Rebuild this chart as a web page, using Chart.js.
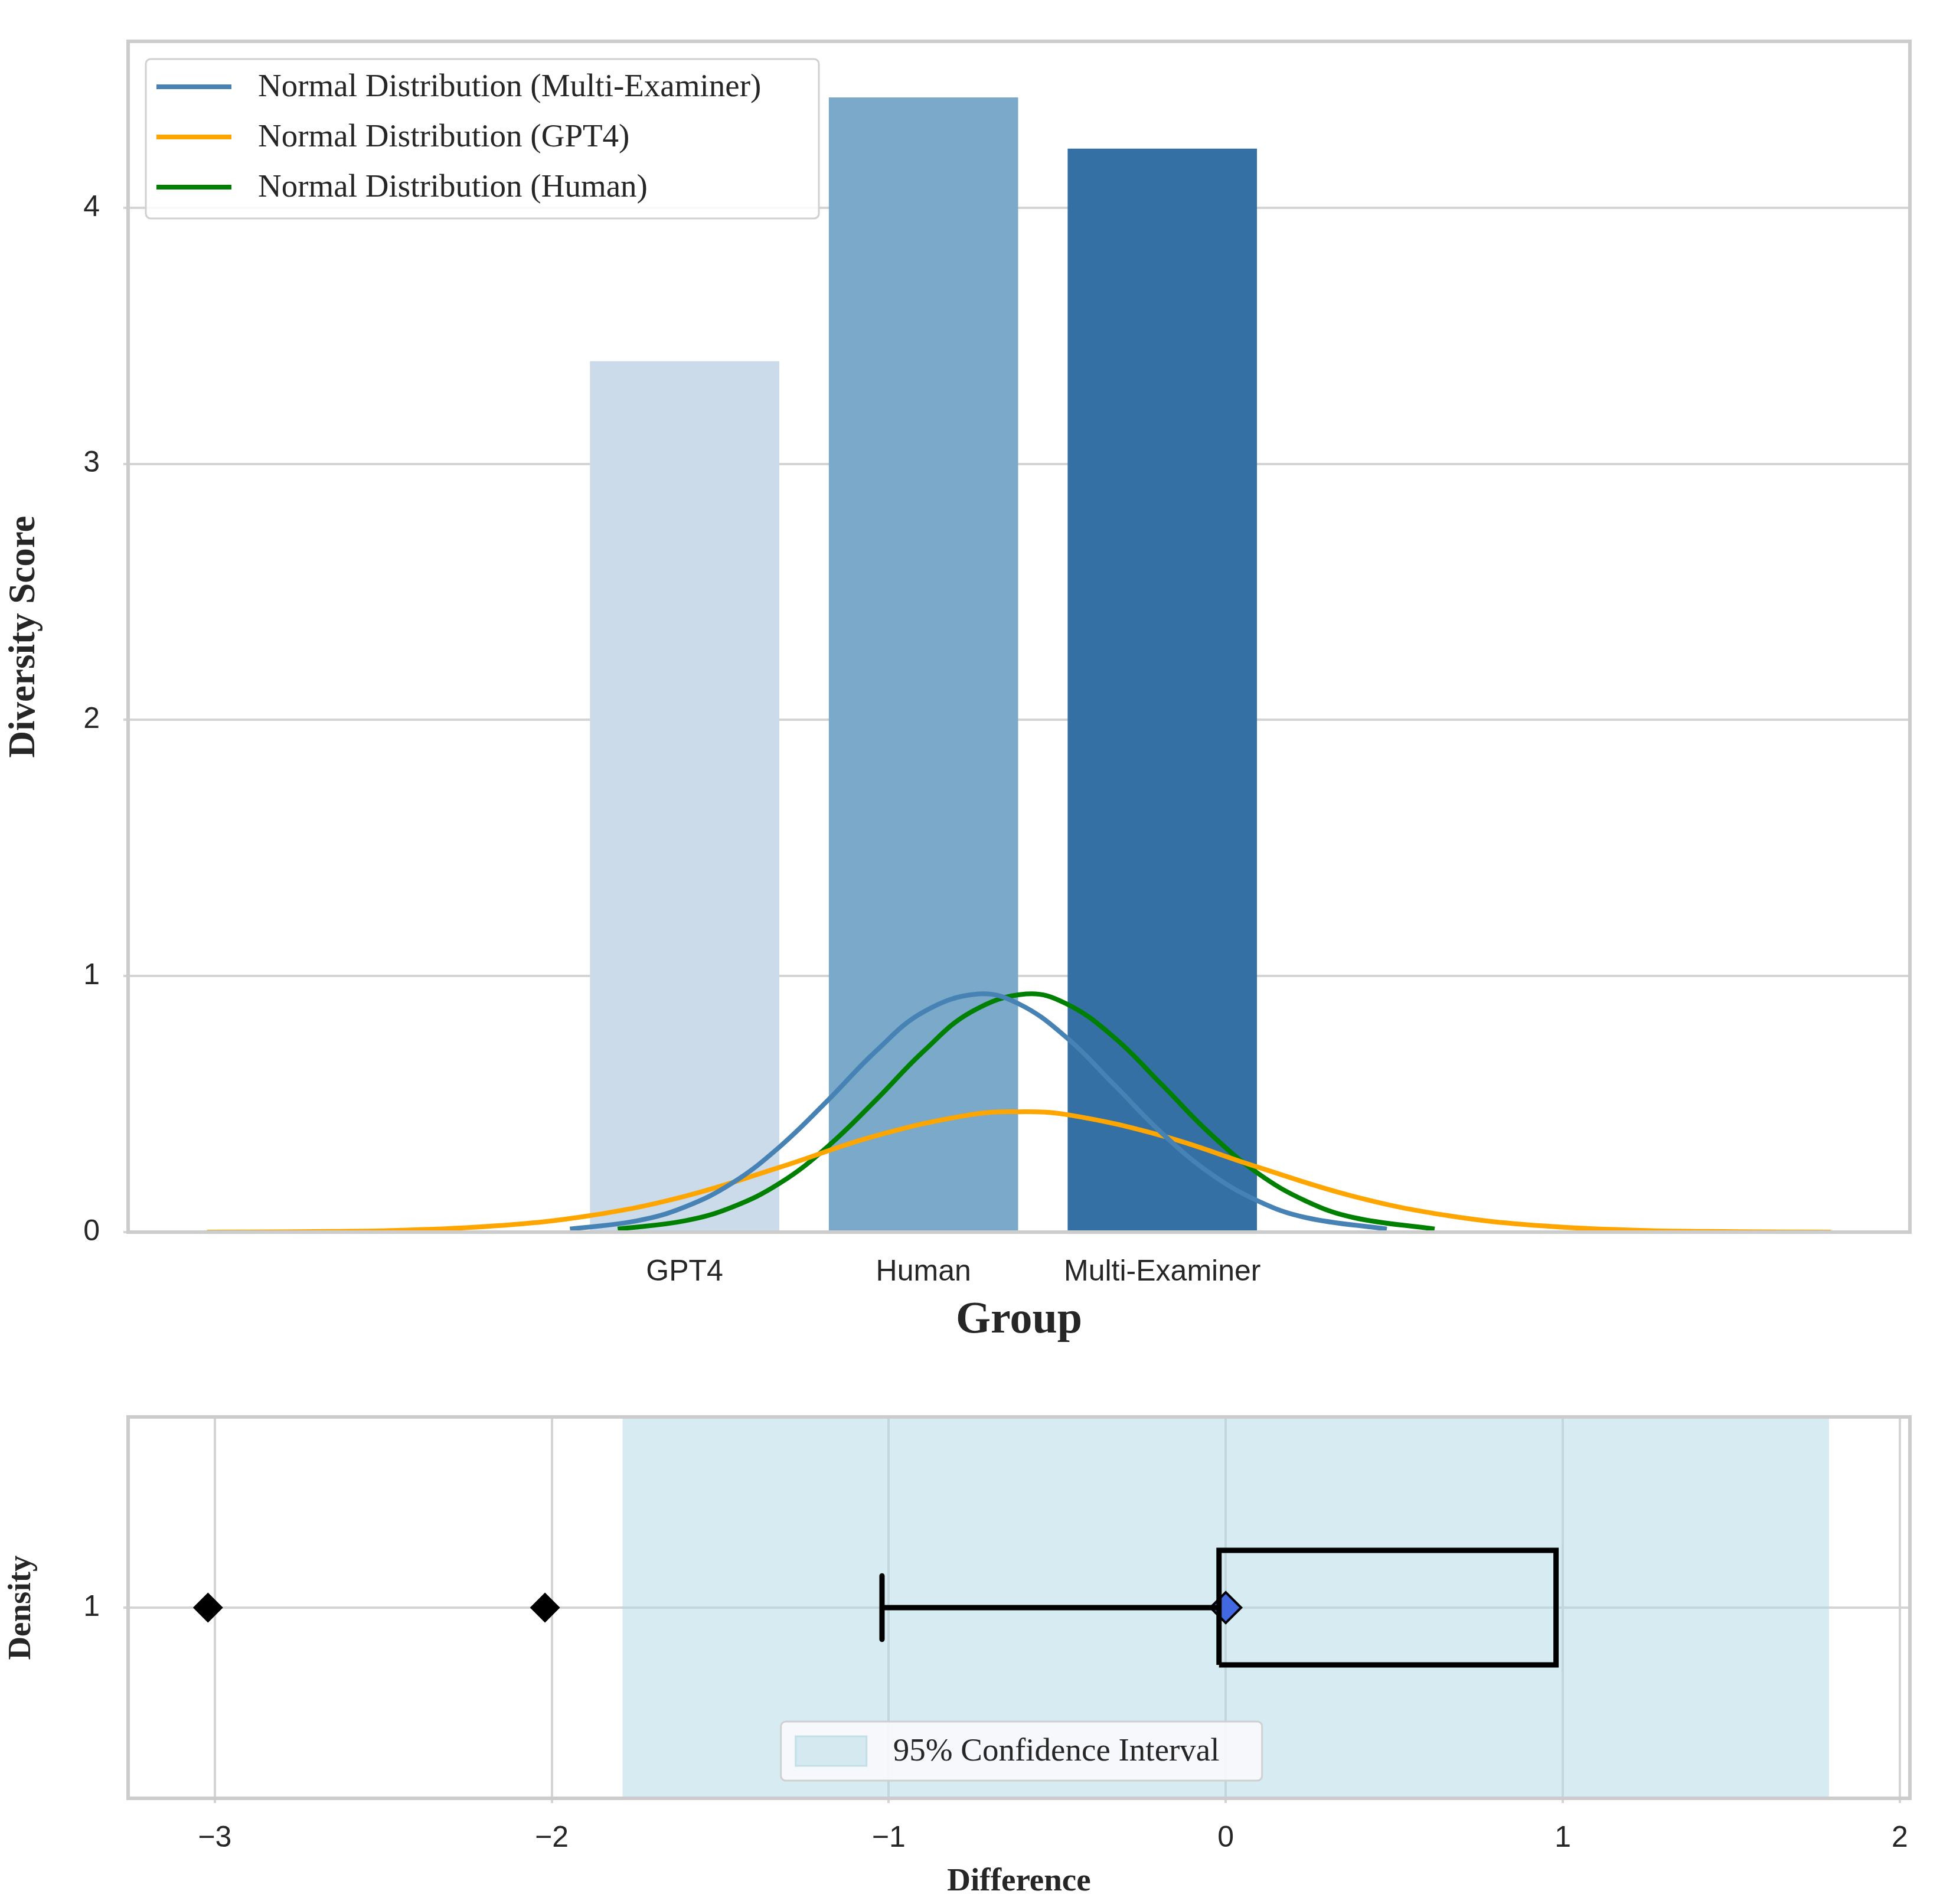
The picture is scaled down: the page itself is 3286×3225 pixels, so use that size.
<!DOCTYPE html>
<html><head><meta charset="utf-8">
<script src="https://cdn.jsdelivr.net/npm/chart.js"></script>
<style>
body{margin:0;background:#fff;width:3286px;height:3225px;overflow:hidden;position:relative}
canvas{position:absolute;left:0}
</style></head><body>
<canvas id="top" width="3286" height="2330" style="top:0;width:3286px;height:2330px"></canvas>
<canvas id="bot" width="3286" height="895" style="top:2330px;width:3286px;height:895px"></canvas>
<script>
const categories = ['GPT4','Human','Multi-Examiner'];
const barValues = [3.40, 4.43, 4.23];
const barColors = ['#cbdbea','#7aa9c9','#3470a3'];
const yTicksTop = [0,1,2,3,4];

const multiX = [-0.48,-0.2,0,0.2,0.4,0.6,0.8,1.0,1.23,1.4,1.6,1.8,2.0,2.2,2.4,2.6,2.94];
const multiY = [0.012,0.044,0.098,0.192,0.335,0.515,0.706,0.860,0.930,0.891,0.759,0.574,0.385,0.230,0.122,0.057,0.012];
const humanX = [-0.28,0,0.2,0.4,0.6,0.8,1.0,1.2,1.43,1.6,1.8,2.0,2.2,2.4,2.6,2.8,3.14];
const humanY = [0.012,0.044,0.098,0.192,0.335,0.515,0.706,0.860,0.930,0.891,0.759,0.574,0.385,0.230,0.122,0.057,0.012];
const gptX = [-2.0,-1.6,-1.2,-0.8,-0.4,0,0.4,0.8,1.2,1.4,1.6,2.0,2.4,2.8,3.2,3.6,4.0,4.4,4.8];
const gptY = [0.000,0.002,0.007,0.024,0.064,0.140,0.254,0.376,0.459,0.470,0.459,0.376,0.254,0.140,0.064,0.024,0.007,0.002,0.000];

const diffTicks = [-3,-2,-1,0,1,2];
const ciRange = [-1.79, 1.79];
const whiskerLow = -1.02, q1 = -0.02, q3 = 0.98, meanVal = 0.0;
const outliers = [-3.02, -2.02];

const serif = '"Liberation Serif", "Times New Roman", serif';
const sans = '"Liberation Sans", Arial, sans-serif';
const grid = '#d4d4d4';

const frame = {id:'frame', afterDatasetsDraw(c){const a=c.chartArea,x=c.ctx;x.save();x.strokeStyle='#cccccc';x.lineWidth=6;x.strokeRect(a.left,a.top,a.right-a.left,a.bottom-a.top);x.restore();}};

const topLegend = {id:'tl', afterDraw(c){
  const x=c.ctx,a=c.chartArea; x.save();
  const bx=a.left+30,by=a.top+30,bw=1140,bh=270;
  x.fillStyle='rgba(255,255,255,0.85)';x.strokeStyle='#d0d0d0';x.lineWidth=3;
  x.beginPath();x.roundRect(bx,by,bw,bh,8);x.fill();x.stroke();
  const items=[['Normal Distribution (Multi-Examiner)','#4682b4'],['Normal Distribution (GPT4)','#ffa500'],['Normal Distribution (Human)','#008000']];
  x.font='55px '+serif;x.textBaseline='middle';
  items.forEach((it,i)=>{const yy=by+47+i*85;x.strokeStyle=it[1];x.lineWidth=8;x.beginPath();x.moveTo(bx+18,yy);x.lineTo(bx+145,yy);x.stroke();x.fillStyle='#262626';x.fillText(it[0],bx+190,yy+2);});
  x.restore();}};

new Chart(document.getElementById('top'),{
  type:'bar',
  data:{datasets:[
    {type:'bar',data:categories.map((c,i)=>({x:i,y:barValues[i]})),backgroundColor:barColors,barThickness:320,order:3},
    {type:'line',data:multiX.map((v,i)=>({x:v,y:multiY[i]})),borderColor:'#4682b4',borderWidth:8,pointRadius:0,tension:0.4,order:1},
    {type:'line',data:gptX.map((v,i)=>({x:v,y:gptY[i]})),borderColor:'#ffa500',borderWidth:8,pointRadius:0,tension:0.4,order:1},
    {type:'line',data:humanX.map((v,i)=>({x:v,y:humanY[i]})),borderColor:'#008000',borderWidth:8,pointRadius:0,tension:0.4,order:1}
  ]},
  options:{responsive:false,animation:false,devicePixelRatio:1,
    layout:{padding:{top:0,right:51,left:0,bottom:43}},
    plugins:{legend:{display:false},tooltip:{enabled:false}},
    scales:{
      x:{type:'linear',offset:false,min:-2.33,max:5.13,grid:{display:false},border:{display:false},
        afterBuildTicks:a=>{a.ticks=[0,1,2].map(v=>({value:v}));},
        ticks:{callback:(v)=>categories[v],font:{size:50,family:sans},color:'#262626',padding:30,maxRotation:0,autoSkip:false},
        title:{display:true,text:'Group',font:{size:76,weight:'bold',family:serif},color:'#262626',padding:{top:0}},
        afterFit:s=>{s.height=200;}},
      y:{min:0,max:4.65,grid:{color:grid,lineWidth:4},border:{display:false},
        afterBuildTicks:a=>{a.ticks=yTicksTop.map(v=>({value:v}));},
        ticks:{font:{size:50,family:sans},color:'#262626',padding:40},
        title:{display:true,text:'Diversity Score',font:{size:63,weight:'bold',family:serif},color:'#262626',padding:{bottom:0}},
        afterFit:s=>{s.width=217;}}
    }},
  plugins:[frame,topLegend]
});

const botLegend = {id:'bl', afterDraw(c){
  const x=c.ctx,a=c.chartArea,sx=c.scales.x; x.save();
  const bx=sx.getPixelForValue(-1.32),by=a.bottom-130,bw=815,bh=100;
  x.fillStyle='rgba(248,250,252,0.92)';x.strokeStyle='#d0d0d0';x.lineWidth=3;
  x.beginPath();x.roundRect(bx,by,bw,bh,8);x.fill();x.stroke();
  x.fillStyle='#d4eaf0';x.strokeStyle='#c4dfe8';x.fillRect(bx+25,by+25,120,50);x.strokeRect(bx+25,by+25,120,50);
  x.font='55px '+serif;x.textBaseline='middle';x.fillStyle='#262626';x.fillText('95% Confidence Interval',bx+190,by+52);
  x.restore();}};

const ciBand = {id:'ci', beforeDatasetsDraw(c){
  const x=c.ctx,a=c.chartArea,sx=c.scales.x; x.save();
  x.fillStyle='rgba(173,216,230,0.5)';
  const l=sx.getPixelForValue(ciRange[0]),r=sx.getPixelForValue(ciRange[1]);
  x.fillRect(l,a.top,r-l,a.bottom-a.top);x.restore();}};

new Chart(document.getElementById('bot'),{
  type:'line',
  data:{datasets:[
    {data:[{x:q1,y:0.82},{x:q3,y:0.82},{x:q3,y:1.18},{x:q1,y:1.18},{x:q1,y:0.82}],borderColor:'#000',borderWidth:9,pointRadius:0,fill:false},
    {data:[{x:whiskerLow,y:1},{x:q1,y:1}],borderColor:'#000',borderWidth:9,pointRadius:0},
    {data:[{x:whiskerLow,y:0.9},{x:whiskerLow,y:1.1}],borderColor:'#000',borderWidth:9,pointRadius:0,borderCapStyle:'round'},
    {data:outliers.map(v=>({x:v,y:1})),showLine:false,pointStyle:'rectRot',pointRadius:24,backgroundColor:'#000',borderColor:'#000',borderWidth:2},
    {data:[{x:meanVal,y:1}],showLine:false,pointStyle:'rectRot',pointRadius:26,backgroundColor:'#4169e1',borderColor:'#000',borderWidth:4}
  ]},
  options:{responsive:false,animation:false,devicePixelRatio:1,
    layout:{padding:{top:0,right:51,left:0,bottom:0}},
    plugins:{legend:{display:false},tooltip:{enabled:false}},
    scales:{
      x:{type:'linear',min:-3.257,max:2.03,grid:{color:grid,lineWidth:4},border:{display:false},
        afterBuildTicks:a=>{a.ticks=diffTicks.map(v=>({value:v}));},
        ticks:{callback:v=>v<0?'\u2212'+Math.abs(v):String(v),font:{size:50,family:sans},color:'#262626',padding:30,maxRotation:0},
        title:{display:true,text:'Difference',font:{size:55,weight:'bold',family:serif},color:'#262626',padding:{top:5}},
        afterFit:s=>{s.height=179;}},
      y:{min:0.4,max:1.6,grid:{color:grid,lineWidth:4},border:{display:false},
        afterBuildTicks:a=>{a.ticks=[{value:1}];},
        ticks:{font:{size:50,family:sans},color:'#262626',padding:40},
        title:{display:true,text:'Density',font:{size:55,weight:'bold',family:serif},color:'#262626'},
        afterFit:s=>{s.width=217;}}
    }},
  plugins:[ciBand,frame,botLegend]
});
</script></body></html>
